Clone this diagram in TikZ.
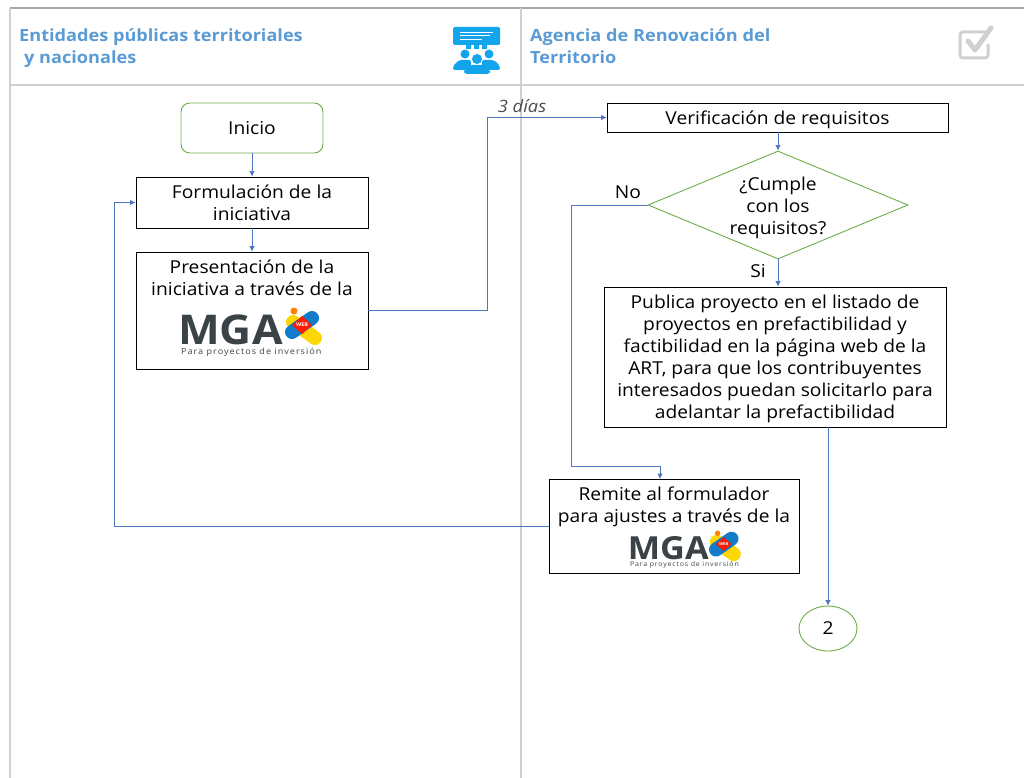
\documentclass[tikz,border=0pt]{standalone}
\usepackage{fontspec}
\setmainfont{Open Sans}[FakeStretch=1.08]
\usetikzlibrary{arrows.meta,shapes.geometric}
\definecolor{headblue}{HTML}{5B9BD5}
\definecolor{iconblue}{HTML}{12A5EC}
\definecolor{linkblue}{HTML}{4F76BE}
\definecolor{startgreen}{HTML}{70AD47}
\definecolor{framegray}{HTML}{D0D0D0}
\definecolor{mgadark}{HTML}{3A4245}
\tikzset{
  task/.style={draw=black,line width=.9pt,align=center,inner sep=0pt,font=\fontsize{17.8}{22}\selectfont},
  startbox/.style={task,draw=startgreen,rounded corners=9pt},
  decision/.style={task,diamond,draw=startgreen,aspect=2.4,inner sep=-6pt},
  link/.style={draw=linkblue,line width=.7pt,-{Latex[length=5.5pt,width=5.5pt]}},
  head/.style={font=\fontsize{16.8}{22}\selectfont\bfseries,text=headblue,align=left,anchor=west,inner sep=0pt},
  tag/.style={font=\fontsize{17.8}{20}\selectfont,inner sep=0pt},
  frame/.style={draw=framegray,line width=1.3pt},
  mga/.pic={
    \node [transform shape,anchor=west,inner sep=0pt,text=mgadark,text height=29pt,text depth=0pt,font=\fontsize{41}{41}\selectfont\bfseries] at (-3,0) {MGA};
    \draw [line width=14pt,line cap=round,yellow!75!orange] (112,-8)--(134,8);
    \draw [line width=14pt,line cap=round,cyan!60!blue] (131,-12)--(111,2);
    \fill [red!80!orange] (121,-14)--(131,-5)--(121,4)--(111,-5)--cycle;
    \fill [orange] (113,-19) circle (3.5pt);
    \node [transform shape,white,inner sep=0pt,font=\fontsize{5}{6}\selectfont\bfseries] at (121,-5) {WEB};
    \node [transform shape,anchor=west,inner sep=0pt,text=mgadark,font=\fontsize{8.4}{8}\selectfont\addfontfeature{LetterSpace=12}] at (0,22) {Para proyectos de inversión};
  }
}
\begin{document}
\begin{tikzpicture}[x=1pt,y=-1pt]
\useasboundingbox (0,0) rectangle (1024,778);

% frame
\draw [frame,draw=gray!70] (10,8)--(1024,8);
\draw [frame] (10,8)--(10,778);
\draw [frame] (521,8)--(521,778);
\draw [frame] (10,85)--(1024,85);

% headings
\node (entidades) [head] at (19,48) {Entidades públicas territoriales\\\hspace*{5pt}y nacionales};
\node (agencia) [head] at (530,46) {Agencia de Renovación del\\Territorio};

% people icon
\fill [iconblue,rounded corners=1.5pt] (453,27) rectangle (500,45);
\fill [iconblue] (466,45) rectangle (471,49) (474,45) rectangle (479,49) (482,45) rectangle (487,49);
\draw [white,line width=.5pt] (460,32)--(493,32) (460,35.5)--(490,35.5) (460,39)--(482,39);
\fill [iconblue] (465,54) circle (4.5pt) (489,54) circle (4.5pt) (477,59) circle (5pt);
\fill [iconblue,rounded corners=2pt] (453,70)--(453,66)--(459,60)--(471,60)--(471,70)--cycle;
\fill [iconblue,rounded corners=2pt] (500,70)--(500,66)--(494,60)--(482,60)--(482,70)--cycle;
\fill [iconblue,rounded corners=3pt] (464,74)--(464,70)--(470,65)--(484,65)--(490,70)--(490,74)--cycle;

% check icon
\draw [framegray,line width=3pt,rounded corners=3pt] (985,32)--(960,32)--(960,58)--(988,58)--(988,44);
\draw [framegray,line width=5pt,line cap=round,line join=round] (968,41)--(975,50)--(991,28);

% nodes
\node (inicio) [startbox,minimum width=142pt,minimum height=50pt] at (252,128) {Inicio};
\node (formula) [task,minimum width=232pt,minimum height=51pt] at (252,202.5) {Formulación de la\\iniciativa};
\node (presenta) [task,minimum width=232pt,minimum height=117pt,text depth=65pt] at (252,310.5) {Presentación de la\\iniciativa a través de la};
\node (verifica) [task,minimum width=341pt,minimum height=29pt,text height=15pt,text depth=1pt] at (777.5,117.5) {Verificación de requisitos};
\node (cumple) [decision,minimum width=260pt,minimum height=108pt] at (778,205) {\rule{0pt}{19pt}¿Cumple\\con los\\requisitos?};
\node (publica) [task,minimum width=342pt,minimum height=140pt] at (775,357) {\rule{0pt}{18pt}Publica proyecto en el listado de\\proyectos en prefactibilidad y\\factibilidad en la página web de la\\ART, para que los contribuyentes\\interesados puedan solicitarlo para\\adelantar la prefactibilidad};
\node (remite) [task,minimum width=250pt,minimum height=94pt,text depth=43pt] at (674,526) {Remite al formulador\\para ajustes a través de la};
\node (conector) [task,ellipse,draw=startgreen,minimum width=58pt,minimum height=45pt] at (828,628.5) {2};

% logos
\pic at (181,330) {mga};
\pic [scale=.775] at (630,548) {mga};

% labels
\node (dias) [tag,text=black!70,font=\fontsize{17}{18}\selectfont\itshape] at (522,106) {3 días};
\node (no) [tag] at (628,192) {No};
\node (si) [tag] at (758,271) {Si};

% connectors
\draw [link] (inicio)--(formula);
\draw [link] (formula)--(presenta);
\draw [link] (verifica.south -| cumple.north)--(cumple.north);
\draw [link] (cumple.south)--(cumple.south |- publica.north);
\draw [link] (presenta.east)--(487,310.5)--(487,117.5)--(verifica.west);
\draw [link] (cumple.west)--(571,205)--(571,466)--(660,466)--(660,479);
\draw [link] (conector.north |- publica.south)--(conector.north);
\draw [link] (remite.west)--(114,526)--(114,202.5)--(formula.west);
\end{tikzpicture}
\end{document}
